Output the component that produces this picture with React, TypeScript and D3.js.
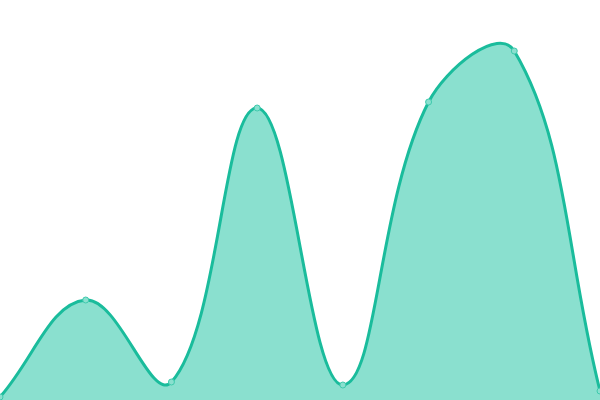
import * as React from 'react';
import * as d3 from 'd3';

// data
const categories = ['A', 'B', 'C', 'D', 'E', 'F', 'G', 'H'];
const values = [3, 100, 18, 292, 15, 298, 349, 9];

const width = 600;
const height = 400;
const tension = 0.4;

// Bezier spline whose control points are weighted by segment length
class SplineCurve {
  _context: any;
  _line = NaN;
  _pts: [number, number][] = [];
  constructor(context: any) { this._context = context; }
  areaStart() { this._line = 0; }
  areaEnd() { this._line = NaN; }
  lineStart() { this._pts = []; }
  point(x: number, y: number) { this._pts.push([+x, +y]); }
  lineEnd() {
    const p = this._pts;
    const n = p.length;
    const ctx = this._context;
    if (n) {
      if (this._line) ctx.lineTo(p[0][0], p[0][1]);
      else ctx.moveTo(p[0][0], p[0][1]);
      const cps = p.map((cur, i) => {
        const prev = i === 0 ? cur : p[i - 1];
        const next = i === n - 1 ? cur : p[i + 1];
        const d01 = Math.hypot(cur[0] - prev[0], cur[1] - prev[1]);
        const d12 = Math.hypot(next[0] - cur[0], next[1] - cur[1]);
        let s01 = d01 / (d01 + d12);
        let s12 = d12 / (d01 + d12);
        if (isNaN(s01)) s01 = 0;
        if (isNaN(s12)) s12 = 0;
        const fa = tension * s01;
        const fb = tension * s12;
        return {
          before: [cur[0] - fa * (next[0] - prev[0]), cur[1] - fa * (next[1] - prev[1])],
          after: [cur[0] + fb * (next[0] - prev[0]), cur[1] + fb * (next[1] - prev[1])],
        };
      });
      for (let i = 1; i < n; i++) {
        const a = cps[i - 1].after;
        const b = cps[i].before;
        ctx.bezierCurveTo(a[0], a[1], b[0], b[1], p[i][0], p[i][1]);
      }
    }
    if (this._line || (this._line !== 0 && n === 1)) ctx.closePath();
    this._line = 1 - this._line;
  }
}
const curveSpline = (context: any) => new SplineCurve(context);

export default function App() {
  const x = d3.scalePoint<string>().domain(categories).range([0, width]);
  const y = d3.scaleLinear().domain([0, 400]).range([height, 0]);
  const data = categories.map((c, i) => [x(c) as number, y(values[i])] as [number, number]);

  const area = d3.area<[number, number]>()
    .x((d) => d[0])
    .y0(y(0))
    .y1((d) => d[1])
    .curve(curveSpline as any);
  const line = d3.line<[number, number]>()
    .x((d) => d[0])
    .y((d) => d[1])
    .curve(curveSpline as any);

  return <svg width={width} height={height}
    style={{position: 'absolute', left: 0, top: 0, overflow: 'hidden'}}>
    <path d={area(data) || ''} fill="#8ae0cf" />
    <path d={line(data) || ''} fill="none" stroke="#1abc9c" strokeWidth={3} />
    {data.map((d, i) =>
      <circle key={i} cx={d[0]} cy={d[1]} r={3} fill="#8ae0cf" stroke="#3fcaad" strokeWidth={1} />)}
  </svg>;
}
